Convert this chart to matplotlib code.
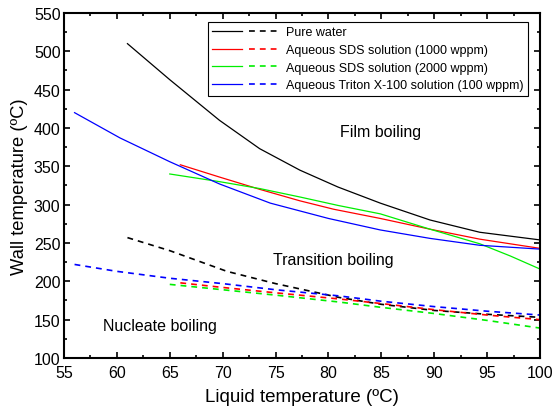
import matplotlib.pyplot as plt
from matplotlib.legend_handler import HandlerTuple
from matplotlib.ticker import MultipleLocator

plt.rcParams['font.family'] = ['Liberation Sans', 'DejaVu Sans']

# 膜沸騰 (實線)
x_water = [61, 65, 69.7, 73.5, 77.3, 80.9, 84.9, 89.6, 94.3, 100]
y_water = [510, 463, 410, 373, 345, 323, 302, 280, 264, 254]
x_sds1000 = [66, 69.7, 73.5, 77.3, 80.5, 84.9, 89.6, 94.3, 100]
y_sds1000 = [352, 336, 320, 305, 294, 282, 268, 255, 243]
x_sds2000 = [65, 69.7, 73.5, 77.3, 80.9, 84.9, 89.6, 94.3, 97.2, 100]
y_sds2000 = [340, 330, 321, 310, 299, 288, 268, 249, 233, 216]
x_triton = [56, 60.3, 65, 69.7, 74.5, 80, 84.9, 89.6, 94.3, 100]
y_triton = [420, 387, 356, 327, 302, 282, 267, 256, 247, 242]

# 核沸騰 (虛線)
x_water_d = [61, 65, 70.4, 75, 81, 85, 90, 95, 100]
y_water_d = [257, 240, 213, 197, 179, 170, 162, 157, 153]
x_sds1000_d = [66, 70, 75, 81, 85, 90, 95, 100]
y_sds1000_d = [198, 192, 185, 177, 171, 163, 156, 150]
x_sds2000_d = [65, 70, 75, 81, 85, 90, 95, 100]
y_sds2000_d = [196, 189, 182, 173, 166, 158, 149, 139]
x_triton_d = [56, 60, 65, 70, 75, 81, 85, 90, 95, 100]
y_triton_d = [222, 213, 204, 197, 189, 181, 174, 167, 161, 156]

labels = ['Pure water', 'Aqueous SDS solution (1000 wppm)',
          'Aqueous SDS solution (2000 wppm)',
          'Aqueous Triton X-100 solution (100 wppm)']
colors = ['black', 'red', '#00ee00', 'blue']

fig = plt.figure(figsize=(5.53, 4.14), dpi=100)
ax = fig.add_axes([0.1157, 0.1329, 0.8608, 0.8333])

solid = [(x_water, y_water), (x_sds1000, y_sds1000),
         (x_sds2000, y_sds2000), (x_triton, y_triton)]
dashed = [(x_water_d, y_water_d), (x_sds1000_d, y_sds1000_d),
          (x_sds2000_d, y_sds2000_d), (x_triton_d, y_triton_d)]

handles = []
for (xs, ys), (xd, yd), c in zip(solid, dashed, colors):
    l1, = ax.plot(xs, ys, color=c, lw=0.9)
    l2, = ax.plot(xd, yd, color=c, lw=1.2, ls=(0, (3.5, 3)))
    handles.append((l1, l2))

ax.text(84.9, 395, 'Film boiling', fontsize=11.5, ha='center', va='center')
ax.text(80.5, 229, 'Transition boiling', fontsize=11.5, ha='center', va='center')
ax.text(64.1, 142, 'Nucleate boiling', fontsize=11.5, ha='center', va='center')

ax.set_xlim(55, 100)
ax.set_ylim(100, 550)
ax.xaxis.set_major_locator(MultipleLocator(5))
ax.xaxis.set_minor_locator(MultipleLocator(2.5))
ax.yaxis.set_major_locator(MultipleLocator(50))
ax.yaxis.set_minor_locator(MultipleLocator(25))
ax.tick_params(which='both', direction='in', top=True, right=True, labelsize=11.5, width=1.2)
ax.tick_params(which='major', length=4)
ax.tick_params(which='minor', length=2)
ax.tick_params(axis='x', pad=5)
ax.tick_params(axis='y', pad=2.5)
for s in ax.spines.values():
    s.set_linewidth(1.5)

ax.set_xlabel('Liquid temperature (ºC)', fontsize=13.5, labelpad=6)
ax.set_ylabel('Wall temperature (ºC)', fontsize=13.2)

leg = ax.legend(handles, labels, handler_map={tuple: HandlerTuple(ndivide=None, pad=0.5)},
                loc='upper right', bbox_to_anchor=(0.975, 0.974), fontsize=9,
                handlelength=5.3, handletextpad=0.6, fancybox=False, edgecolor='black',
                framealpha=1, borderaxespad=0, borderpad=0.35, labelspacing=0.45)
leg.get_frame().set_linewidth(0.8)

plt.savefig('out.png')
